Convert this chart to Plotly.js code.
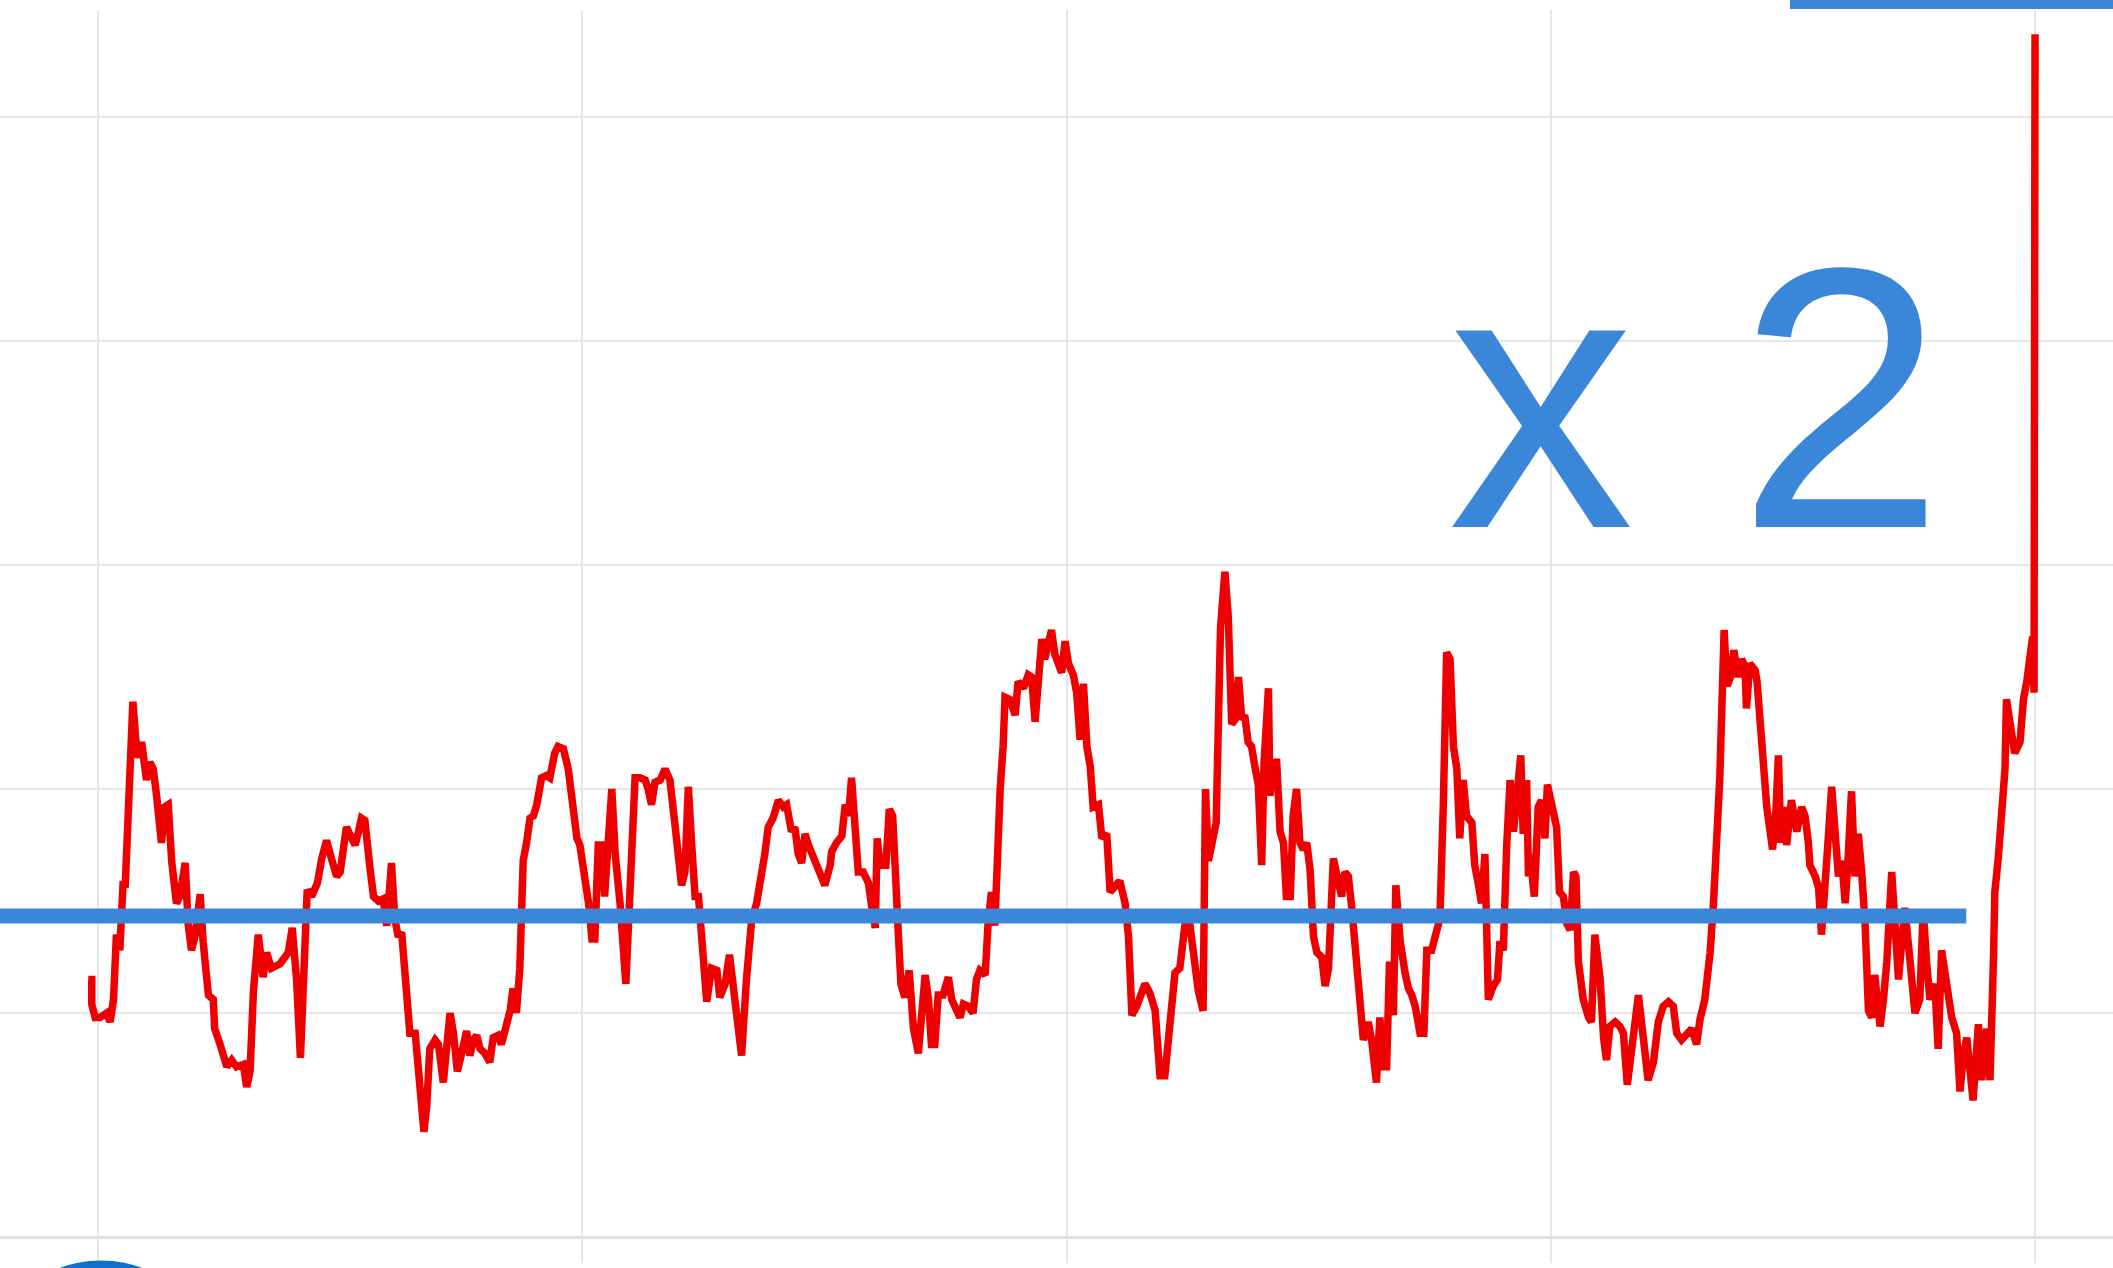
<!DOCTYPE html>
<html>
<head>
<meta charset="utf-8">
<script src="https://cdn.plot.ly/plotly-3.0.1.min.js"></script>
<style>
  html, body { margin: 0; padding: 0; background: #ffffff; }
  #chart { width: 2113px; height: 1268px; }
</style>
</head>
<body>
<div id="chart"></div>
<script>
// Time index (gridlines every 100 units) and the traced level of the red series
const timeIndex = [
  -2.0,-1.3,-1.3,-0.6,0.4,1.8,2.5,3.2,3.8,4.5,5.2,5.6,6.3,7.2,7.8,8.3,9.0,9.7,10.0,10.7,11.4,12.1,13.1,13.8,14.5,15.2,16.2,16.9,18.0,18.6,19.3,20.0,21.1,21.7,22.8,23.8,24.1,25.2,26.6,27.6,28.6,30.0,30.7,31.4,32.1,33.1,34.1,34.8,35.8,37.6,38.6,39.3,40.1,41.0,41.8,42.7,43.2,44.1,45.3,46.2,47.2,
  48.2,49.3,50.0,50.7,51.3,52.4,53.1,53.8,54.4,55.1,55.5,56.2,56.9,57.9,58.9,59.6,60.3,60.6,61.3,62.0,62.7,63.7,64.4,65.5,66.5,67.3,67.9,68.5,69.6,70.3,71.3,72.0,72.7,73.4,74.2,75.1,76.1,76.8,77.5,78.2,78.9,79.9,80.9,81.6,82.6,83.3,84.4,85.1,85.7,86.4,87.1,87.8,88.5,89.2,89.9,90.6,91.6,92.6,93.3,94.3,95.0,96.1,
  97.1,98.2,98.9,99.5,100.6,101.3,102.0,102.6,103.3,104.0,104.6,105.3,106.1,106.8,107.8,109.0,109.5,110.2,110.9,111.9,113.0,113.6,114.3,115.0,116.1,117.1,118.1,119.2,119.8,120.5,121.2,121.9,122.6,123.3,124.0,124.7,125.7,126.7,127.8,128.4,129.5,130.4,131.2,131.9,132.9,133.9,135.0,136.0,137.0,137.7,138.4,139.4,140.5,141.5,142.2,143.2,143.9,144.6,145.3,146.0,
  146.7,148.1,149.1,150.1,151.2,151.5,152.5,153.6,154.3,155.0,155.6,156.3,157.0,158.0,159.1,159.8,160.5,160.9,161.5,162.7,163.4,164.1,164.6,165.3,165.8,166.6,167.5,168.4,169.4,170.1,170.8,171.5,172.1,172.8,173.5,174.5,175.6,176.3,177.3,178.0,178.7,179.7,180.7,181.4,182.1,183.2,183.8,184.5,185.2,185.7,186.3,186.9,187.3,188.3,189.4,190.0,191.1,192.1,192.8,193.5,194.2,194.9,195.5,
  196.9,197.6,198.3,199.0,199.7,200.4,201.4,202.1,202.8,203.5,204.2,204.9,205.5,206.6,207.3,208.3,209.0,210.0,211.0,212.1,212.8,213.5,214.5,216.2,217.2,218.3,219.3,220.3,221.4,222.4,223.4,224.5,225.5,226.5,227.2,228.2,228.7,229.3,230.1,230.9,231.8,232.7,233.4,234.1,234.8,235.5,236.2,236.8,237.5,238.2,238.9,239.6,240.3,240.8,241.7,242.0,242.7,243.4,244.1,244.8,245.4,
  246.2,246.8,247.5,248.2,248.9,249.6,250.3,251.0,251.7,252.7,253.4,254.1,255.1,256.1,256.8,257.5,258.2,258.9,259.9,260.6,261.3,262.3,263.0,264.0,264.7,265.4,266.1,266.7,267.5,268.0,268.9,269.9,270.6,271.3,272.0,273.0,273.8,274.4,275.4,276.1,277.1,277.8,278.5,279.2,279.9,280.6,281.2,281.9,282.6,283.7,284.3,285.0,285.7,286.4,287.1,288.1,289.0,289.5,290.2,290.9,291.6,292.3,293.1,293.8,294.3,295.0,
  295.4,295.7,296.6,297.4,298.1,298.8,299.3,300.2,301.2,301.8,302.6,303.3,304.0,304.7,305.2,305.7,306.7,307.8,308.4,309.1,310.2,310.9,311.5,312.2,313.3,314.3,315.0,315.8,317.0,318.1,319.1,320.1,321.2,322.2,323.2,324.3,325.3,326.0,327.0,328.1,329.1,330.1,330.8,331.8,332.9,333.6,334.2,334.9,335.8,336.4,337.3,337.8,338.7,339.4,340.1,340.4,341.1,342.2,342.6,343.2,343.9,344.6,
  345.8,346.5,347.0,347.5,348.0,348.7,349.7,350.8,351.8,352.5,353.2,353.5,354.6,355.3,355.9,356.6,357.3,358.0,358.7,359.4,360.1,360.8,361.4,362.1,362.8,363.5,364.2,364.9,365.6,366.3,366.9,368.0,368.7,369.4,370.4,371.1,371.8,372.5,373.1,374.2,375.2,376.2,376.9,377.6,378.3,379.3,380.0,380.7,381.4,382.1,382.8,383.8,384.5,385.2,385.9,386.6,387.2,388.3,389.0,390.0,390.7,391.4,391.7,392.4,393.1,393.8,394.1,394.8,395.8,396.9,397.6,398.3,398.9,399.5,399.8,400.0
];
const levelValues = [
  11.5,11.5,10.4,9.8,9.8,10.0,9.6,10.6,13.5,12.8,15.9,15.6,19.2,23.9,22.2,21.4,22.1,21.0,20.4,21.2,20.9,19.7,17.6,19.2,19.3,16.8,14.9,15.2,16.7,14.0,12.8,13.4,15.3,13.2,10.8,10.6,9.3,8.6,7.6,7.9,7.6,7.7,6.7,7.4,11.0,13.5,11.6,12.7,12.0,12.2,12.5,12.7,13.8,11.5,8.0,11.8,15.5,15.2,15.8,16.9,17.7,
  16.9,16.1,16.3,17.8,18.3,17.8,17.5,18.1,18.7,18.6,17.6,16.4,15.2,15.0,15.1,13.9,15.8,16.7,14.2,13.4,13.6,11.1,9.1,9.1,6.4,4.7,5.9,8.4,8.8,8.6,6.9,8.4,10.0,9.1,7.4,8.2,9.2,8.1,8.8,9.0,8.4,8.2,7.8,8.9,9.0,8.6,9.5,10.1,11.1,10.0,12.0,16.8,17.6,18.7,18.8,19.3,20.5,20.6,20.5,21.6,21.9,21.8,
  20.9,19.2,17.8,17.5,16.1,14.9,13.3,13.3,17.5,17.5,15.2,17.5,20.0,17.1,14.9,11.3,13.4,17.5,20.5,20.5,20.4,20.0,19.3,20.3,20.4,20.9,20.4,18.3,16.6,15.7,16.3,20.1,17.5,15.2,15.2,13.5,10.5,12.0,11.9,10.7,11.3,12.6,11.3,9.9,8.1,11.5,14.2,14.9,16.1,17.1,18.3,18.7,19.5,19.2,19.3,18.1,18.3,17.1,16.7,18.0,
  17.5,16.8,16.3,15.7,16.6,17.2,17.6,17.9,19.3,18.8,20.5,18.3,16.3,16.3,15.8,14.7,13.8,17.8,16.6,16.6,19.1,18.8,15.9,13.4,11.3,10.7,11.9,9.3,8.2,9.6,11.7,10.6,8.6,8.6,10.8,10.8,11.6,10.6,10.0,9.8,10.4,10.3,10.0,11.5,11.9,11.7,14.0,15.4,13.9,17.5,20.0,21.9,24.1,24.0,23.3,24.8,24.5,25.1,25.0,23.0,25.3,26.7,25.8,
  27.1,26.0,25.6,25.2,26.6,25.6,25.1,24.3,22.2,24.7,21.9,21.0,19.2,19.3,17.8,18.0,15.4,15.6,15.9,14.9,13.4,9.9,10.3,11.3,10.9,10.1,7.2,7.2,9.6,11.8,12.0,14.0,13.9,12.0,11.0,10.1,20.0,16.8,17.8,18.5,27.2,29.7,27.7,22.9,23.1,25.0,23.1,23.3,22.1,21.9,21.0,20.2,16.6,21.2,24.5,19.7,21.2,21.2,18.1,17.6,15.2,
  15.2,18.8,20.0,17.6,17.3,17.6,16.4,13.4,12.7,12.5,11.2,12.0,16.9,15.9,15.2,16.3,16.1,14.7,12.3,10.6,8.8,9.6,8.8,6.9,9.8,7.6,7.6,12.3,9.9,15.7,13.2,11.8,11.1,10.8,10.3,9.1,9.1,12.8,12.8,13.4,14.2,19.2,26.1,25.8,21.9,20.9,17.8,20.4,18.8,18.5,16.6,15.8,14.9,17.1,10.6,11.2,11.5,13.2,12.8,17.5,20.4,18.1,19.9,21.5,18.0,20.4,
  16.1,17.1,15.2,19.2,19.5,17.8,20.2,19.2,18.3,15.4,15.2,14.0,13.7,16.3,16.1,12.3,10.6,9.8,9.6,13.5,11.5,8.9,7.9,9.4,9.6,9.4,9.1,6.8,8.8,10.8,8.9,7.0,7.8,9.6,10.3,10.5,10.3,9.1,8.8,9.1,9.3,8.6,9.7,10.6,12.7,14.9,17.5,20.5,27.1,24.6,25.1,26.2,25.0,25.8,25.5,23.6,25.6,25.3,24.8,22.9,21.6,19.2,
  17.3,19.0,21.5,17.6,19.2,17.5,19.5,18.1,19.2,18.8,17.6,16.6,16.1,15.6,13.5,15.2,17.8,20.1,18.5,16.1,16.8,14.9,16.9,19.9,16.1,18.0,16.3,14.0,10.1,9.8,11.7,9.4,10.6,12.3,16.3,14.0,11.5,13.2,14.7,12.3,10.0,10.6,14.6,12.3,10.6,11.3,8.4,12.8,11.7,11.0,9.8,9.1,6.5,8.1,8.9,7.4,6.1,9.5,7.0,9.3,7.0,12.3,15.4,16.9,18.8,20.9,24.0,23.0,21.6,22.1,24.0,24.8,26.0,26.8,24.3,53.7
];
// Reference (average) level drawn as the blue line and where it stops
const referenceLevel = [14.33];
const referenceEnd = [385.8];
const calloutText = ["x 2"];

const BLUE = '#3a86d9';

const trace = {
  x: timeIndex,
  y: levelValues,
  type: 'scatter',
  mode: 'lines',
  line: { color: 'rgb(238,0,0)', width: 7.5 },
  hoverinfo: 'skip',
  showlegend: false
};

const layout = {
  width: 2113,
  height: 1268,
  margin: { l: 0, r: 0, t: 10, b: 5, pad: 0 },
  paper_bgcolor: '#ffffff',
  plot_bgcolor: '#ffffff',
  showlegend: false,
  xaxis: {
    range: [-20.24, 416.1],
    tick0: 0, dtick: 100,
    showgrid: true, gridcolor: '#e6e6e6', gridwidth: 2,
    zeroline: false, showline: false, showticklabels: false, ticks: ''
  },
  yaxis: {
    range: [-1.16, 54.78],
    tick0: 0, dtick: 10,
    showgrid: true, gridcolor: '#e6e6e6', gridwidth: 2,
    zeroline: true, zerolinecolor: '#e0e0e0', zerolinewidth: 3,
    showline: false, showticklabels: false, ticks: ''
  },
  shapes: [
    {
      type: 'line', xref: 'x', yref: 'y', layer: 'above',
      x0: -20.24, x1: referenceEnd[0], y0: referenceLevel[0], y1: referenceLevel[0],
      line: { color: BLUE, width: 15 }
    },
    {
      type: 'rect', xref: 'paper', yref: 'paper', layer: 'above',
      x0: 0.8471, x1: 1.0, y0: 1.0008, y1: 1.02,
      fillcolor: BLUE, line: { width: 0 }
    },
    {
      type: 'circle', xref: 'paper', yref: 'paper', layer: 'above',
      x0: -0.0085, x1: 0.1041, y0: -0.1880, y1: 0.0020,
      fillcolor: '#1170cc', line: { width: 0 }
    }
  ],
  annotations: [
    {
      x: 278.4, y: 37.45, xref: 'x', yref: 'y',
      xanchor: 'left', yanchor: 'middle',
      text: calloutText[0], showarrow: false,
      font: { family: 'Liberation Sans, Arial, sans-serif', size: 372, color: BLUE }
    }
  ]
};

Plotly.newPlot('chart', [trace], layout, { displayModeBar: false, staticPlot: true });
</script>
</body>
</html>
